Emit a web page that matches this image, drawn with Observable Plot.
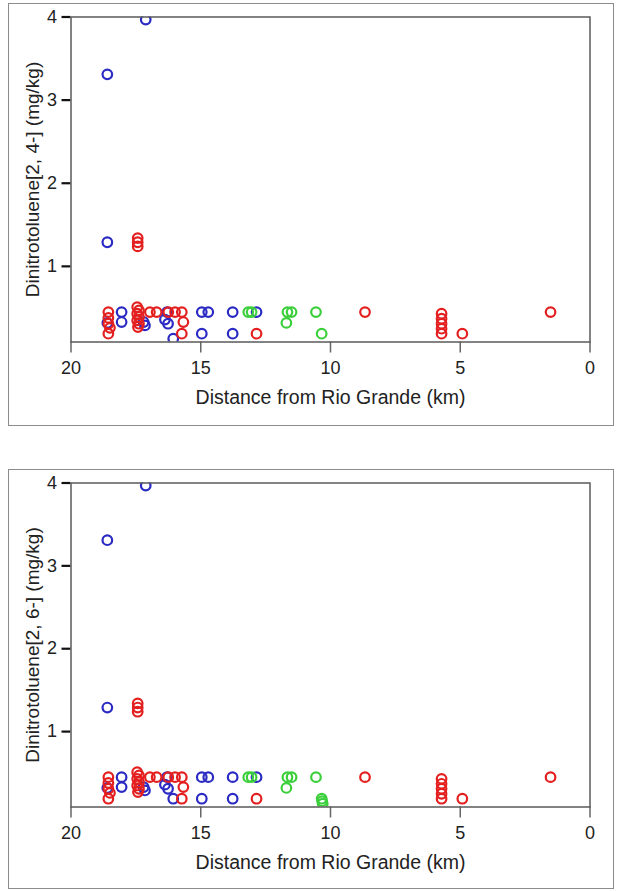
<!DOCTYPE html>
<html><head><meta charset="utf-8">
<script src="https://cdn.jsdelivr.net/npm/d3@7"></script>
<script src="https://cdn.jsdelivr.net/npm/@observablehq/plot@0.6"></script>
<style>
body{margin:0;background:#fff;width:617px;height:891px;position:relative;font-family:"Liberation Sans",Arial,sans-serif;}
.panel{position:absolute;left:8px;width:606px;border:1.5px solid #8c8c8c;box-sizing:border-box;background:#fff;}
#p1{top:3px;height:423px;}
#p2{top:469px;height:420px;}
.panel svg{display:block}
g[aria-label="y-axis tick"]{stroke:#111 !important;stroke-width:2.2px !important;}
g[aria-label="x-axis tick"]{stroke:#666 !important;stroke-width:1.5px !important;}
g[aria-label="y-axis tick label"], g[aria-label="x-axis tick label"]{fill:#222;}
</style></head><body>
<div id="p1" class="panel"></div>
<div id="p2" class="panel"></div>
<script>
// ---- data ----
const groups = ["Group 1", "Group 2", "Group 3"];
const xTicks = [20, 15, 10, 5, 0];
const yTicks = [1, 2, 3, 4];
const xLabel = "Distance from Rio Grande (km)";
const yLabel24 = "Dinitrotoluene[2, 4-] (mg/kg)";
const yLabel26 = "Dinitrotoluene[2, 6-] (mg/kg)";

// Group 1 (blue)
const g1Dist  = [17.12, 18.6, 18.6, 18.6, 18.05, 18.05, 17.15, 17.2, 16.38, 16.3, 16.26, 16.06, 14.96, 14.71, 14.96, 13.77, 13.77, 12.85];
const g1Dnt24 = [3.97, 3.31, 1.29, 0.32, 0.45, 0.33, 0.29, 0.33, 0.36, 0.45, 0.31, 0.13, 0.45, 0.45, 0.19, 0.45, 0.19, 0.45];
const g1Dnt26 = [3.97, 3.31, 1.29, 0.32, 0.45, 0.33, 0.29, 0.33, 0.36, 0.45, 0.31, 0.19, 0.45, 0.45, 0.19, 0.45, 0.19, 0.45];

// Group 2 (red)
const g2Dist  = [17.43, 17.43, 17.43, 18.56, 18.56, 18.56, 18.56, 18.5, 17.45, 17.38, 17.45, 17.38, 17.45, 17.38, 17.42, 16.96, 16.7, 16.25, 15.99, 15.73, 15.67, 15.73, 12.85, 8.67, 5.72, 5.72, 5.72, 5.72, 5.72, 4.92, 1.52];
const g2Dnt24 = [1.34, 1.29, 1.24, 0.45, 0.38, 0.31, 0.19, 0.26, 0.51, 0.47, 0.43, 0.39, 0.35, 0.31, 0.27, 0.45, 0.45, 0.45, 0.45, 0.45, 0.33, 0.19, 0.19, 0.45, 0.43, 0.37, 0.31, 0.25, 0.19, 0.19, 0.45];
const g2Dnt26 = [1.34, 1.29, 1.24, 0.45, 0.38, 0.31, 0.19, 0.26, 0.51, 0.47, 0.43, 0.39, 0.35, 0.31, 0.27, 0.45, 0.45, 0.45, 0.45, 0.45, 0.33, 0.19, 0.19, 0.45, 0.43, 0.37, 0.31, 0.25, 0.19, 0.19, 0.45];

// Group 3 (green)
const g3Dist24 = [13.17, 13.04, 11.66, 11.5, 11.7, 10.56, 10.34];
const g3Dnt24  = [0.45, 0.45, 0.45, 0.45, 0.32, 0.45, 0.19];
const g3Dist26 = [13.17, 13.04, 11.66, 11.5, 11.7, 10.56, 10.34, 10.32, 10.3];
const g3Dnt26  = [0.45, 0.45, 0.45, 0.45, 0.32, 0.45, 0.19, 0.16, 0.13];

// ---- build tables ----
function rows(dist, vals, g) { return dist.map((d, i) => ({d, v: vals[i], g})); }
const data24 = [...rows(g1Dist, g1Dnt24, groups[0]), ...rows(g2Dist, g2Dnt24, groups[1]), ...rows(g3Dist24, g3Dnt24, groups[2])];
const data26 = [...rows(g1Dist, g1Dnt26, groups[0]), ...rows(g2Dist, g2Dnt26, groups[1]), ...rows(g3Dist26, g3Dnt26, groups[2])];

const font = "Liberation Sans, Arial, sans-serif";
function chart(data, ylabel, h, mb) {
  return Plot.plot({
    width: 603, height: h,
    marginLeft: 61.5, marginRight: 22.5, marginTop: 12.5, marginBottom: mb,
    style: {fontFamily: font, fontSize: "18px", color: "#222", background: "#fff", overflow: "visible"},
    x: {domain: [20, 0], ticks: xTicks, tickFormat: d => String(d), tickSize: 11, tickPadding: 8, label: null},
    y: {domain: [0.09, 4], ticks: yTicks, tickFormat: d => String(d), tickSize: 9, tickPadding: 5, label: null},
    color: {domain: groups, range: ["#2b2bc4", "#e41f1f", "#3ccf3c"]},
    marks: [
      Plot.dot(data, {x: "d", y: "v", stroke: "g", r: 4.8, strokeWidth: 2.2, clip: true}),
      Plot.frame({stroke: "#5a5a5a", strokeWidth: 1.5}),
      Plot.text([xLabel], {text: d => d, frameAnchor: "bottom", dy: 62, fontSize: 19.5, fill: "#222"}),
      Plot.text([ylabel], {text: d => d, frameAnchor: "left", textAnchor: "middle", rotate: -90, dx: -38, fontSize: 19, fill: "#222"})
    ]
  });
}
document.getElementById("p1").append(chart(data24, yLabel24, 420, 82.5));
document.getElementById("p2").append(chart(data26, yLabel26, 417, 80.5));
</script>
</body></html>
